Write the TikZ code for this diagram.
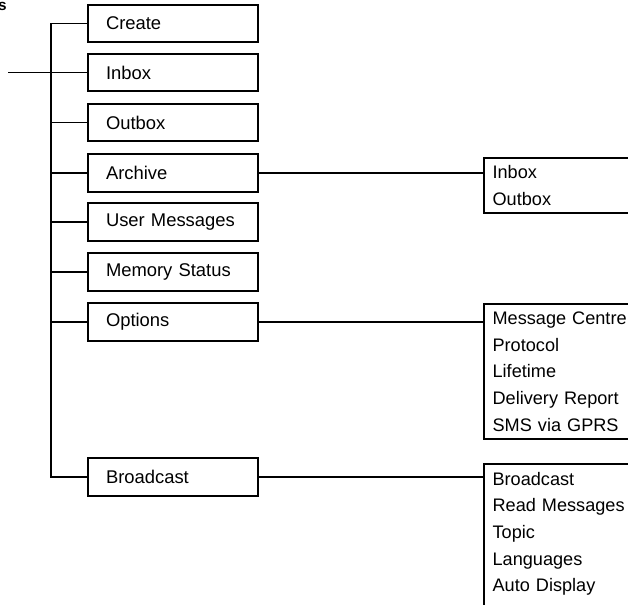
\documentclass[tikz,border=0pt]{standalone}
\usepackage{fontspec}
\setmainfont{Liberation Sans}
\begin{document}
\begin{tikzpicture}[x=0.75pt,y=-0.75pt,
  line width=1.4pt,
  lbox/.style={draw,rectangle,minimum width=127.5pt,minimum height=28pt,
    inner xsep=13.5pt,text width=100.5pt,align=left,
    font=\fontsize{13.8}{16}\selectfont},
  rbox/.style={draw,rectangle,anchor=north west,minimum width=150pt,
    inner xsep=6.5pt,text width=137pt,align=left,
    font=\fontsize{13.6}{20}\selectfont},
  conn/.style={draw,line width=1.4pt}]
\useasboundingbox (0,0) rectangle (628,604);
\clip (0,0) rectangle (628,604);

\node[anchor=base east,inner sep=0pt,font=\fontsize{11.5}{12}\selectfont\bfseries] (cut) at (7.5,10.5) {s};

\node[lbox] (create)  at (173,23.5)  {Create};
\node[lbox] (inbox)   at (173,72.5)  {Inbox};
\node[lbox] (outbox)  at (173,122.5) {Outbox};
\node[lbox] (archive) at (173,173)   {Archive};
\node[lbox] (user)    at (173,222)   {User Messages};
\node[lbox] (memory)  at (173,272)   {Memory Status};
\node[lbox] (options) at (173,322)   {Options};
\node[lbox] (broad)   at (173,477)   {Broadcast};

\node[rbox,minimum height=41.25pt] (archsub) at (483,157) {Inbox\\Outbox};
\node[rbox,minimum height=101.25pt] (optsub) at (483,303)
  {Message Centre\\Protocol\\Lifetime\\Delivery Report\\SMS via GPRS};
\node[rbox,minimum height=122pt] (broadsub) at (483,463)
  {Broadcast\\Read Messages\\Topic\\Languages\\Auto Display\\\mbox{}};

\coordinate (ttop) at (51,23.5);
\coordinate (tbot) at (51,477);
\coordinate (in) at (8,72.5);

\draw[conn] (create.west) -- (ttop) -- (tbot) -- (broad.west);
\draw[conn] (in) -- (inbox.west);
\foreach \n in {outbox,archive,user,memory,options}
  \draw[conn] (\n.west) -- (\n.west -| ttop);

\draw[conn] (archive.east) -- (archive.east -| archsub.west);
\draw[conn] (options.east) -- (options.east -| optsub.west);
\draw[conn] (broad.east) -- (broad.east -| broadsub.west);
\end{tikzpicture}
\end{document}
